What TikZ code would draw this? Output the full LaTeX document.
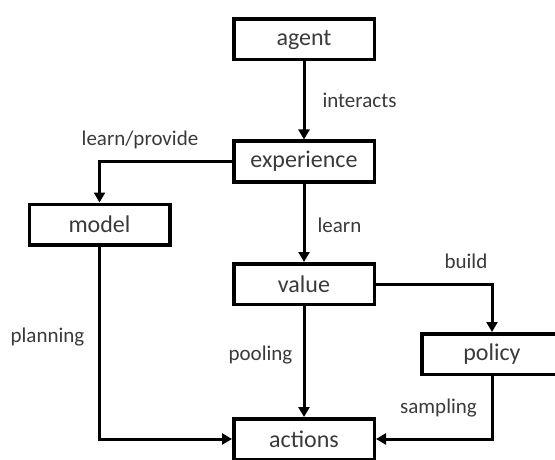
\documentclass[tikz,border=0pt]{standalone}
\usepackage{fontspec}
\setmainfont{Carlito}
\usepackage{tikz}
\usetikzlibrary{arrows.meta}

\definecolor{textgray}{HTML}{3A3A3A}

\begin{document}
\begin{tikzpicture}[x=1pt, y=1pt,
    box/.style={shape=rectangle, draw=black, line width=3.5pt, minimum width=140.5pt,
        minimum height=40.5pt, text=textgray, font=\fontsize{24}{28}\selectfont},
    lbl/.style={text=textgray, font=\fontsize{21}{25}\selectfont, inner sep=0pt},
    link/.style={draw=black, line width=3pt, -{Triangle[length=10pt,width=11pt]}}]
    \useasboundingbox (0,0) rectangle (555,459);

    \node[box] (agent) at (304,419.5) {agent};
    \node[box] (experience) at (304,297.5) {experience};
    \node[box] (model) at (99.5,234.5) {model};
    \node[box] (value) at (304,175) {value};
    \node[box] (policy) at (492,105) {policy};
    \node[box] (actions) at (304,20) {actions};

    \node[lbl] (interacts) at (359.5,359) {interacts};
    \node[lbl] (provide) at (140,319) {learn/provide};
    \node[lbl] (learn) at (339.5,234) {learn};
    \node[lbl] (build) at (466,198) {build};
    \node[lbl] (pooling) at (260.5,104) {pooling};
    \node[lbl] (sampling) at (438.5,51) {sampling};
    \node[lbl] (planning) at (47.5,122) {planning};

    \path[link] (agent) -- (experience);
    \path[link] (experience.west) -| (model.north);
    \path[link] (experience) -- (value);
    \path[link] (value.east) -| (policy.north);
    \path[link] (value) -- (actions);
    \path[link] (policy.south) |- (actions.east);
    \path[link] (model.south) |- (actions.west);
\end{tikzpicture}
\end{document}
